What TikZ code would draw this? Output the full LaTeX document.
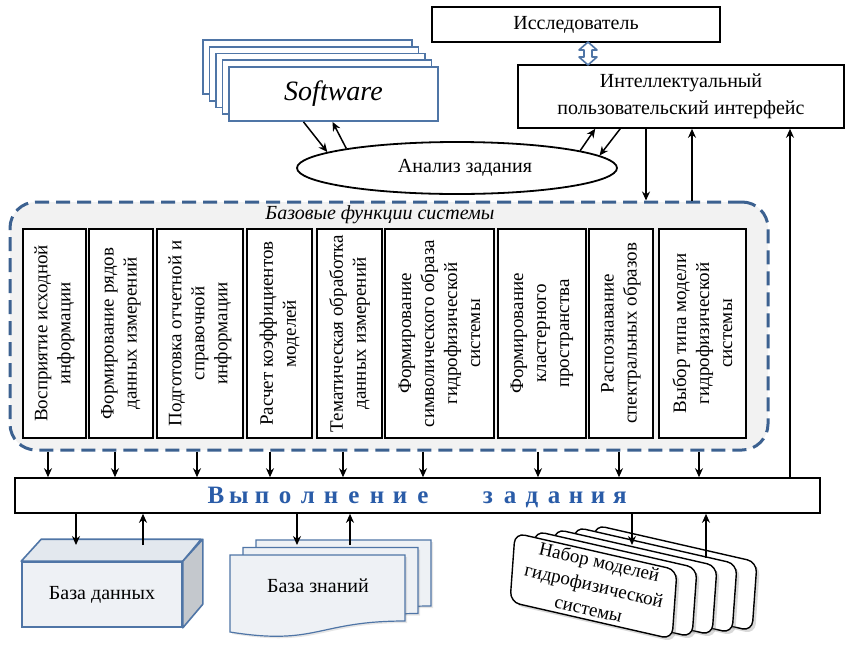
\documentclass[tikz,border=0pt]{standalone}
\usepackage{fontspec}
\setmainfont{Liberation Serif}
\usetikzlibrary{arrows.meta, shapes.geometric, shadows}

\definecolor{edgeblue}{HTML}{4F75A6}
\definecolor{dashblue}{HTML}{3C6190}
\definecolor{panelgray}{HTML}{F2F2F2}
\definecolor{boxfill}{HTML}{EEF1F5}
\definecolor{topfill}{HTML}{E3E8EE}
\definecolor{sidegray}{HTML}{C4C8CD}
\definecolor{textblue}{HTML}{2A5CA8}

\begin{document}
\begin{tikzpicture}[x = 0.5pt, y = -0.5pt, > = {Stealth[length = 4.5pt, width = 4pt]},
	box/.style = {draw, line width = 0.8pt, fill = white, inner sep = 0pt, font = \fontsize{10}{12}\selectfont},
	func/.style = {box, rotate = 90, align = center, minimum width = 104.5pt, font = \fontsize{9.5}{11.5}\selectfont},
	arr/.style = {->, line width = 0.75pt},
	soft/.style = {draw = edgeblue, line width = 0.9pt, fill = white},
	doc/.style = {draw = edgeblue, line width = 0.6pt, fill = boxfill, drop shadow = {opacity = 0.2, shadow xshift = 1pt, shadow yshift = -1pt}},
	card/.style = {draw, line width = 0.7pt, fill = white, rounded corners = 5pt, drop shadow = {opacity = 0.3, shadow xshift = 1.5pt, shadow yshift = -1.5pt}},
	letter/.style = {text = textblue, font = \bfseries\fontsize{12.5}{14}\selectfont, inner sep = 0pt, anchor = base}]

\useasboundingbox (0, 0) rectangle (846, 649);

% Researcher + interface

\node [box, minimum width = 144pt, minimum height = 17.5pt] (res) at (576, 24.5) {Исследователь};
\node [box, align = center, minimum width = 163pt, minimum height = 31.5pt, font = \fontsize{10}{13.5}\selectfont] (iface) at (681, 96.5) {Интеллектуальный\\пользовательский интерфейс};
\draw [draw = edgeblue, fill = white, line width = 0.8pt, line join = round] (588, 42) -- (597, 50) -- (592, 50) -- (592, 57) -- (597, 57) -- (588, 65) -- (579, 57) -- (584, 57) -- (584, 50) -- (579, 50) -- cycle;

% Software stack

\foreach \k in {4, 3, 2, 1}
	\draw [soft] (229 - 6.5 * \k, 67 - 6.75 * \k) rectangle +(209, 54);
\node [soft, minimum width = 104.5pt, minimum height = 27pt, inner sep = 0pt, font = \itshape\fontsize{14}{16}\selectfont] (soft) at (333.5, 94) {Software};

% Task analysis

\node [ellipse, draw, line width = 0.9pt, fill = white, minimum width = 160pt, minimum height = 26pt, inner sep = 0pt, font = \fontsize{10}{12}\selectfont] (task) at (457, 168) {\hspace{8pt}Анализ задания};
\draw [arr] ([xshift = -15pt] soft.south) -- (task.173);
\draw [arr] (task.170) -- ([xshift = -0.5pt] soft.south);
\draw [arr] (task.8) -- ([xshift = 39pt] iface.south west);
\draw [arr] ([xshift = 51.5pt] iface.south west) -- (task.5);

% Base functions

\node [draw = dashblue, line width = 1.5pt, dash pattern = on 7pt off 3.5pt, fill = panelgray, rounded corners = 13pt, minimum width = 379pt, minimum height = 124pt] (funcs) at (389, 326) {};
\node [font = \itshape\fontsize{10}{12}\selectfont] (ftitle) at (380, 215) {Базовые функции системы};

% Execution bar

\node [box, minimum width = 402.5pt, minimum height = 17.5pt] (exec) at (417.5, 495.5) {};
\foreach \c [count = \i from 0] in {В, ы, п, о, л, н, е, н, и, е}
	\node [letter] (w\i) at (216 + 23 * \i, 503) {\c};
\foreach \c [count = \i from 0] in {з, а, д, а, н, и, я}
	\node [letter] (z\i) at (488 + 22 * \i, 503) {\c};

\foreach \n/\xa/\xb/\ax/\txt in {
	1/23/86/48/{Восприятие исходной\\информации},
	2/89/153/115/{Формирование рядов\\данных измерений},
	3/157/243/197/{Подготовка отчетной и\\справочной\\информации},
	4/247/312/270/{Расчет коэффициентов\\моделей},
	5/317/382/343/{Тематическая обработка\\данных измерений},
	6/385/494/423/{Формирование\\символического образа\\гидрофизической\\системы},
	7/498/586/538/{Формирование\\кластерного\\пространства},
	8/589/653/619/{Распознавание\\спектральных образов},
	9/659/746/699/{Выбор типа модели\\гидрофизической\\системы}} {
	\node [func, minimum height = (\xb - \xa) * 0.5pt] (f\n) at ({(\xa + \xb) / 2}, 333.5) {\txt};
	\coordinate (a\n) at (\ax, 0);
	\draw [arr] (funcs.south -| a\n) -- (exec.north -| a\n);
}

% Links to interface

\coordinate (i1) at (646, 0);
\coordinate (i2) at (692, 0);
\coordinate (i3) at (790, 0);
\draw [arr] (iface.south -| i1) -- (funcs.north -| i1);
\draw [arr] (funcs.north -| i2) -- (iface.south -| i2);
\draw [arr] (exec.north -| i3) -- (iface.south -| i3);

% Database

\node [box, draw = edgeblue, fill = boxfill, minimum width = 80pt, minimum height = 32.5pt] (db) at (102, 594.5) {База данных};
\draw [draw = edgeblue, fill = topfill, line width = 0.8pt, line join = round] (db.north west) -- ++(20, -22) -- ++(160, 0) -- (db.north east) -- cycle;
\draw [draw = edgeblue, fill = sidegray, line width = 0.8pt, line join = round] (db.north east) -- ++(20, -22) -- ++(0, 65) -- (db.south east) -- cycle;
\coordinate (d1) at (76, 545);
\coordinate (d2) at (143, 545);
\draw [arr] (exec.south -| d1) -- (d1);
\draw [arr] (d2) -- (exec.south -| d2);

% Knowledge base

\foreach \k in {2, 1, 0}
	\draw [doc, shift = {(13 * \k, -7.5 * \k)}] (230, 555) -- (405, 555) -- (405, 621) .. controls (317, 621) and (317, 646) .. (230, 632) -- cycle;
\node [font = \fontsize{10}{12}\selectfont] (kb) at (318, 586) {База знаний};
\coordinate (k1) at (297, 545);
\coordinate (k2) at (350, 545);
\draw [arr] (exec.south -| k1) -- (k1);
\draw [arr] (k2) -- (exec.south -| k2);

% Model set

\foreach \k in {4, ..., 0} {
	\begin{scope}[shift = {(515 + 20 * \k, 533 - 2 * \k)}]
	\begin{scope}[x = {(0.488pt, -0.1115pt)}, y = {(-0.036pt, -0.5pt)}]
		\draw [card] (0, 0) -- (166, 0) -- (166, 69) -- (0, 69) -- cycle;
	\end{scope}
	\end{scope}
}
\node [rotate = -13, align = center, font = \fontsize{9.5}{12}\selectfont] (models) at (594, 585) {Набор моделей\\гидрофизической\\системы};
\coordinate (m1) at (632, 545);
\coordinate (m2) at (706, 558);
\draw [arr] (exec.south -| m1) -- (m1);
\draw [arr] (m2) -- (exec.south -| m2);

\end{tikzpicture}
\end{document}
